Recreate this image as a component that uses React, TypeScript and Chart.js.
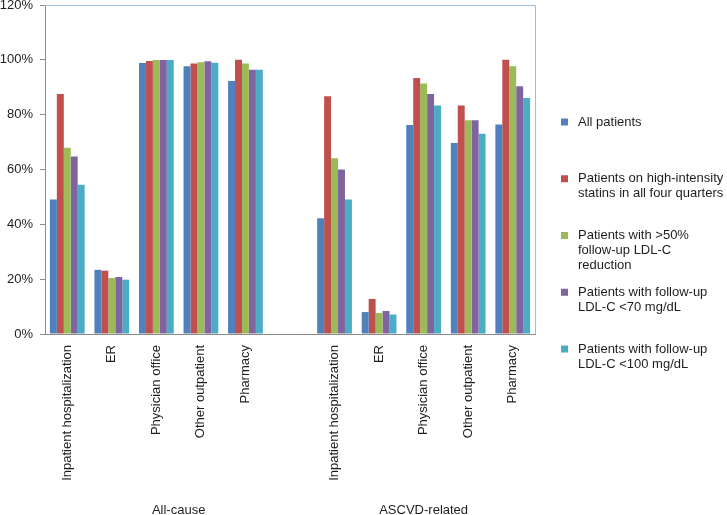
import React, { useEffect, useRef } from "react";
import { Chart, registerables } from "chart.js";

Chart.register(...registerables);

const CATEGORIES = [
  "Inpatient hospitalization",
  "ER",
  "Physician office",
  "Other outpatient",
  "Pharmacy",
  "",
  "Inpatient hospitalization",
  "ER",
  "Physician office",
  "Other outpatient",
  "Pharmacy",
];

const GROUPS = ["All-cause", "ASCVD-related"];
// category index span covered by each group (first, last)
const GROUP_FIRST = [0, 6];
const GROUP_LAST = [5, 10];

const SERIES_LINES = [
  ["All patients"],
  ["Patients on high-intensity", "statins in all four quarters"],
  ["Patients with >50%", "follow-up LDL-C", "reduction"],
  ["Patients with follow-up", "LDL-C <70 mg/dL"],
  ["Patients with follow-up", "LDL-C <100 mg/dL"],
];

const COLORS = ["#4F81BD", "#C0504D", "#9BBB59", "#8064A2", "#4BACC6"];

const ALL_PATIENTS = [49.1, 23.4, 98.8, 97.7, 92.3, null, 42.2, 8.0, 76.2, 69.7, 76.4];
const HIGH_INTENSITY = [87.5, 23.1, 99.6, 98.7, 100, null, 86.7, 12.8, 93.4, 83.3, 100];
const LDL_REDUCTION = [67.9, 20.4, 99.9, 99.1, 98.7, null, 64.1, 7.7, 91.4, 78.0, 97.7];
const LDL_LT70 = [64.7, 20.8, 99.9, 99.5, 96.4, null, 60.0, 8.4, 87.5, 78.0, 90.4];
const LDL_LT100 = [54.4, 19.8, 99.9, 98.9, 96.4, null, 49.1, 7.1, 83.3, 73.0, 86.1];

const SERIES_VALUES = [ALL_PATIENTS, HIGH_INTENSITY, LDL_REDUCTION, LDL_LT70, LDL_LT100];

const Y_MAX = 120;
const Y_STEP = 20;

const FONT = "'Liberation Sans', Arial, sans-serif";
const TEXT_COLOR = "#1e1e1e";
const AXIS_COLOR = "#8c8c8c";
const FRAME_COLOR = "#9fbcdc";

const framePlugin = {
  id: "frame",
  afterDatasetsDraw(chart: any) {
    const { ctx, chartArea } = chart;
    ctx.save();
    ctx.strokeStyle = FRAME_COLOR;
    ctx.lineWidth = 1;
    ctx.beginPath();
    ctx.moveTo(chartArea.left, chartArea.top + 0.5);
    ctx.lineTo(chartArea.right + 0.5, chartArea.top + 0.5);
    ctx.lineTo(chartArea.right + 0.5, chartArea.bottom);
    ctx.stroke();
    ctx.restore();
  },
};

const groupLabelPlugin = {
  id: "groupLabels",
  afterDraw(chart: any) {
    const { ctx } = chart;
    const xs = chart.scales.x;
    const opts = chart.options.plugins.groupLabels;
    ctx.save();
    ctx.font = `13px ${FONT}`;
    ctx.fillStyle = TEXT_COLOR;
    ctx.textAlign = "center";
    ctx.textBaseline = "middle";
    GROUPS.forEach((g, i) => {
      const x = xs.getPixelForValue((GROUP_FIRST[i] + GROUP_LAST[i]) / 2);
      ctx.fillText(g, x, xs.bottom + opts.gap);
    });
    ctx.restore();
  },
};

const sideLegendPlugin = {
  id: "sideLegend",
  afterDraw(chart: any) {
    const { ctx, chartArea } = chart;
    const opts = chart.options.plugins.sideLegend;
    const x0 = chartArea.right + opts.offsetX;
    ctx.save();
    ctx.font = `13px ${FONT}`;
    ctx.textBaseline = "middle";
    ctx.textAlign = "left";
    chart.data.datasets.forEach((ds: any, i: number) => {
      const yc = opts.top + i * opts.step;
      ctx.fillStyle = ds.backgroundColor;
      ctx.fillRect(x0, yc - 3.5, 7, 7);
      ctx.fillStyle = TEXT_COLOR;
      (ds.legendLines as string[]).forEach((ln, j) => {
        ctx.fillText(ln, x0 + 17, yc + j * 15);
      });
    });
    ctx.restore();
  },
};

export default function App() {
  const ref = useRef<HTMLCanvasElement | null>(null);

  useEffect(() => {
    if (!ref.current) return;
    const chart = new Chart(ref.current, {
      type: "bar",
      data: {
        labels: CATEGORIES,
        datasets: SERIES_VALUES.map((vals, i) => ({
          label: SERIES_LINES[i].join(" "),
          legendLines: SERIES_LINES[i],
          data: vals,
          backgroundColor: COLORS[i],
          borderWidth: 0,
          categoryPercentage: 0.78,
          barPercentage: 1.0,
        })) as any,
      },
      options: {
        animation: false,
        responsive: false,
        maintainAspectRatio: false,
        layout: { padding: { top: 5, right: 192, bottom: 21, left: 0 } },
        plugins: {
          legend: { display: false },
          tooltip: { enabled: false },
          sideLegend: { offsetX: 26, top: 122, step: 56.75 },
          groupLabels: { gap: 16 },
        } as any,
        scales: {
          x: {
            type: "category",
            position: "bottom",
            grid: { display: false, drawTicks: false },
            border: { display: true, color: AXIS_COLOR, width: 1 },
            ticks: {
              autoSkip: false,
              maxRotation: 90,
              minRotation: 90,
              padding: 11,
              color: TEXT_COLOR,
              font: { family: FONT, size: 13 },
            },
            afterFit: (s: any) => {
              s.height = 160;
            },
          },
          y: {
            min: 0,
            max: Y_MAX,
            grid: {
              display: true,
              drawOnChartArea: false,
              drawTicks: true,
              tickLength: 5,
              color: AXIS_COLOR,
            },
            border: { display: true, color: AXIS_COLOR, width: 1 },
            ticks: {
              stepSize: Y_STEP,
              padding: 7,
              color: TEXT_COLOR,
              font: { family: FONT, size: 13 },
              callback: (v: any) => `${v}%`,
            },
            afterFit: (s: any) => {
              s.width = 45;
              s.paddingTop = 0;
              s.paddingBottom = 0;
            },
          },
        } as any,
      },
      plugins: [framePlugin, groupLabelPlugin, sideLegendPlugin],
    });
    return () => chart.destroy();
  }, []);

  return (
    <div style={{ position: "absolute", left: 0, top: 0, width: 727, height: 515, background: "#fff" }}>
      <canvas ref={ref} width={727} height={515} style={{ width: 727, height: 515 }} />
    </div>
  );
}
